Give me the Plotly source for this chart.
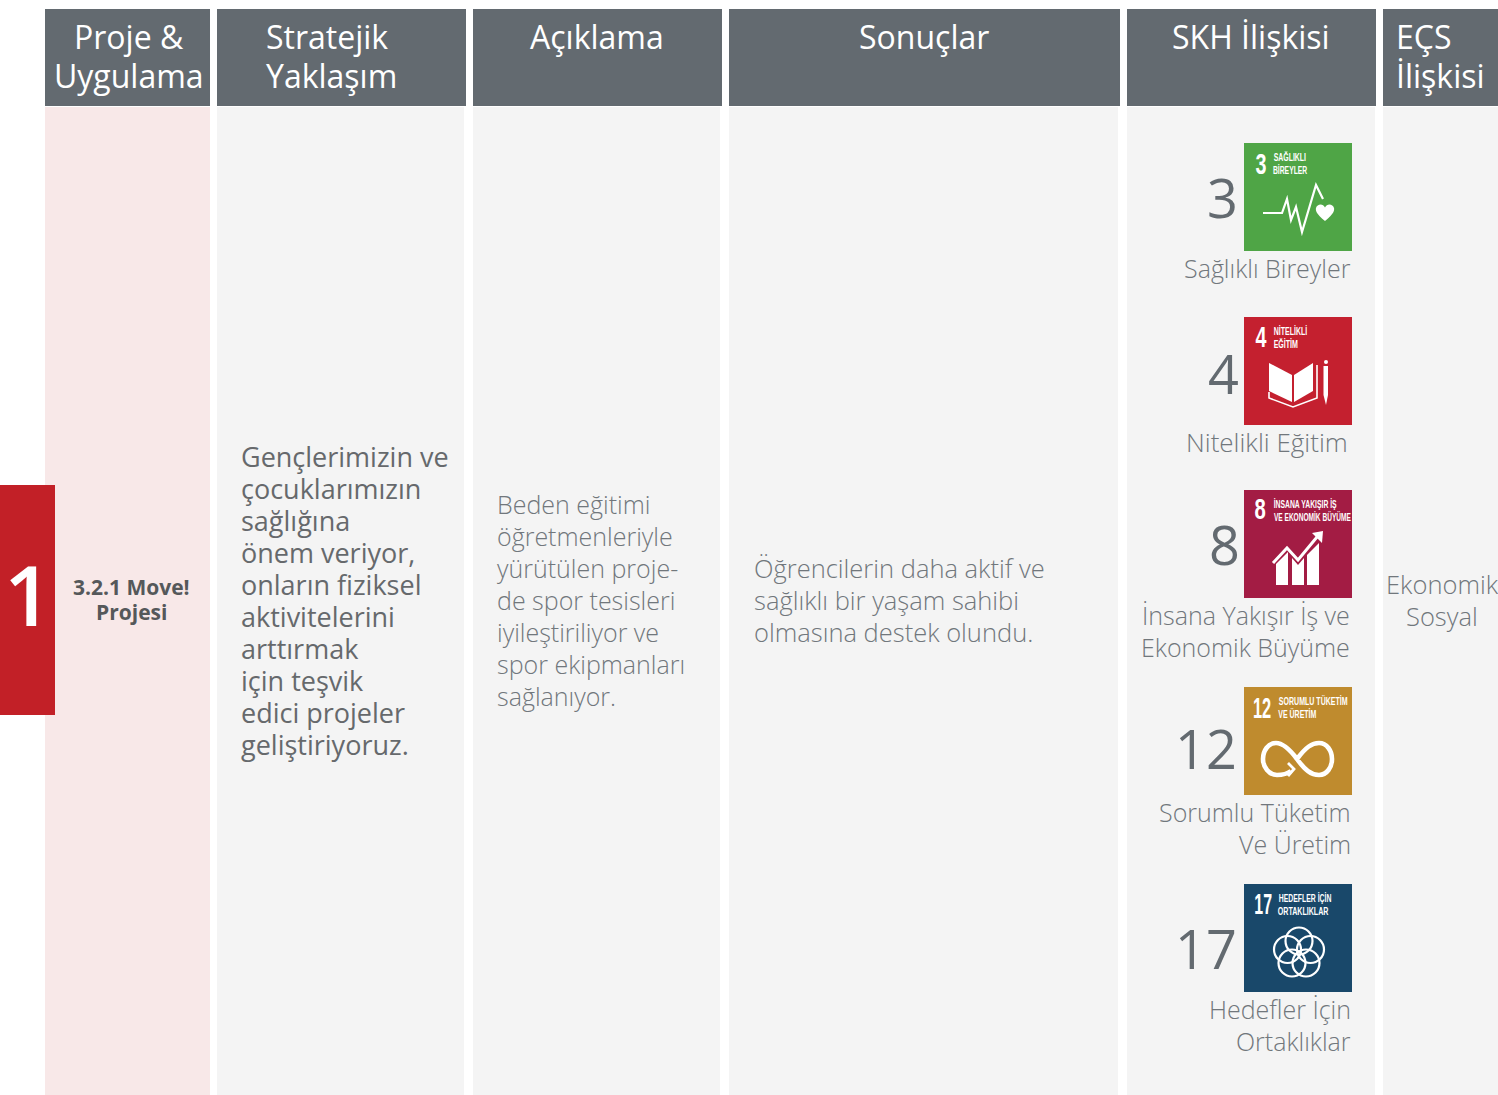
import json
import plotly.graph_objects as go

FONT = "Open Sans"
TILE_FONT = "Liberation Sans"
GREY = "#636a70"
PANEL = "#f4f4f4"
BODY = "#71777c"

headers = [["Proje &", "Uygulama"], ["Stratejik", "Yaklaşım"], ["Açıklama"], ["Sonuçlar"], ["SKH İlişkisi"], ["EÇS", "İlişkisi"]]
header_x = [(45, 210), (217, 466), (473, 722), (729, 1120), (1127, 1376), (1383, 1498)]
panel_x = [(45, 210), (217, 464), (473, 720), (729, 1118), (1127, 1375), (1383, 1498)]
header_text_x = [(129, "center"), (266, "left"), (597, "center"), (924, "center"), (1251, "center"), (1396, "left")]

project_no = "1"
project_lines = ["3.2.1 Move!", "Projesi"]
strategy_lines = ["Gençlerimizin ve", "çocuklarımızın", "sağlığına", "önem veriyor,", "onların fiziksel",
                  "aktivitelerini", "arttırmak", "için teşvik", "edici projeler", "geliştiriyoruz."]
desc_lines = ["Beden eğitimi", "öğretmenleriyle", "yürütülen proje-", "de spor tesisleri", "iyileştiriliyor ve",
              "spor ekipmanları", "sağlanıyor."]
result_lines = ["Öğrencilerin daha aktif ve", "sağlıklı bir yaşam sahibi", "olmasına destek olundu."]
esg_lines = ["Ekonomik", "Sosyal"]

sdg_numbers = ["3", "4", "8", "12", "17"]
sdg_labels = [["Sağlıklı Bireyler"], ["Nitelikli Eğitim"], ["İnsana Yakışır İş ve", "Ekonomik Büyüme"],
              ["Sorumlu Tüketim", "Ve Üretim"], ["Hedefler İçin", "Ortaklıklar"]]
sdg_label_size = [25, 26, 25, 25, 25]
sdg_label_right = [1351, 1348, 1350, 1351, 1351]
sdg_titles = [["SAĞLIKLI", "BİREYLER"], ["NİTELİKLİ", "EĞİTİM"], ["İNSANA YAKIŞIR İŞ", "VE EKONOMİK BÜYÜME"],
              ["SORUMLU TÜKETİM", "VE ÜRETİM"], ["HEDEFLER İÇİN", "ORTAKLIKLAR"]]
sdg_title_widths = [[32.3, 34.3], [33.3, 24.3], [63, 77], [68.7, 38], [52.7, 50.7]]
sdg_title_left = [29.7, 29.7, 29.5, 34.3, 34.3]
sdg_digit_box = [(11.3, 11), (11, 11), (10.7, 11.3), (8.7, 18.3), (10, 17.7)]
sdg_digit_y = [20.7, 19.7, 19.3, 21, 20]
sdg_colors = ["#4fa546", "#c4202f", "#a31c44", "#bf8b2e", "#19486a"]
sdg_tops = [143, 317, 490, 687, 884]
ICON = 108

shapes, annotations, squeeze = [], [], {}


def rect(x0, y0, x1, y1, color):
    shapes.append(dict(type="rect", xref="x", yref="y", x0=x0, y0=y0, x1=x1, y1=y1,
                       fillcolor=color, line_width=0, layer="below"))


def text(x, y, s, size, color, anchor="left", weight=400, font=FONT):
    annotations.append(dict(x=x, y=y, xref="x", yref="y", text=s, showarrow=False, xanchor=anchor, yanchor="middle",
                            align=anchor, font=dict(family=font, size=size, color=color, weight=weight),
                            borderpad=0, borderwidth=0))


def fitted(left, width, y, s, size):
    """Tile caption: condensed real text, squeezed to the measured width."""
    squeeze[len(annotations)] = width
    text(left + width / 2, y, s, size, "white", "center", 700, TILE_FONT)


def block(x, y0, step, lines, size, color, anchor="left", weight=400):
    for i, s in enumerate(lines):
        text(x, y0 + i * step, s, size, color, anchor, weight)


def path(ox, oy, pts, fill=None, stroke=None, width=2.2, close=False):
    d = "M " + " L ".join(f"{ox + a},{oy + b}" for a, b in pts) + (" Z" if close else "")
    shapes.append(dict(type="path", xref="x", yref="y", path=d, fillcolor=fill or "rgba(0,0,0,0)",
                       line=dict(color=stroke or "rgba(0,0,0,0)", width=width if stroke else 0)))


def curve(ox, oy, d, fill=None, stroke=None, width=2.2):
    out = []
    for tok in d.split():
        if tok.isalpha():
            out.append(tok)
        else:
            a, b = tok.split(",")
            out.append(f"{ox + float(a)},{oy + float(b)}")
    shapes.append(dict(type="path", xref="x", yref="y", path=" ".join(out), fillcolor=fill or "rgba(0,0,0,0)",
                       line=dict(color=stroke or "rgba(0,0,0,0)", width=width if stroke else 0)))


def glyph(idx, ox, oy):
    W = "white"
    if idx == 0:
        path(ox, oy, [(19, 70), (38, 70), (43, 56), (47, 77), (52, 64), (58, 89), (72, 42), (79, 56)], stroke=W)
        curve(ox, oy, "M 81,78 C 72,71 71.5,67 72,65 C 73,61 79,60 81,64.5 C 83,60 89,61 90,65 C 90.5,67 90,71 81,78 Z", fill=W)
    elif idx == 1:
        path(ox, oy, [(25, 46), (48, 58), (48, 85), (25, 74)], fill=W, close=True)
        path(ox, oy, [(50, 58), (69, 46), (69, 74), (50, 85)], fill=W, close=True)
        path(ox, oy, [(25, 75), (25, 81), (49, 90), (73, 81), (73, 48)], stroke=W, width=1.6)
        path(ox, oy, [(79.5, 49), (84, 49), (84, 78), (82, 88), (79.5, 78)], fill=W, close=True)
        shapes.append(dict(type="circle", xref="x", yref="y", x0=ox + 80, y0=oy + 43, x1=ox + 84, y1=oy + 47,
                           fillcolor=W, line_width=0))
    elif idx == 2:
        path(ox, oy, [(32, 74), (44, 62), (44, 95), (32, 95)], fill=W, close=True)
        path(ox, oy, [(48, 68), (54, 75), (60, 68), (60, 95), (48, 95)], fill=W, close=True)
        path(ox, oy, [(63, 65), (75, 53), (75, 95), (63, 95)], fill=W, close=True)
        path(ox, oy, [(29, 73), (43, 58), (54, 70), (73, 47)], stroke=W, width=3)
        path(ox, oy, [(79, 41), (68, 43), (78, 53)], fill=W, close=True)
    elif idx == 3:
        curve(ox, oy, "M 53,72 C 44,60 38,56 32,56 C 24,56 19,64 19,72 C 19,80 25,88 33,88 C 38,88 43,87 47,84 "
                      "M 53,72 C 62,60 68,56 75,56 C 83,56 88,64 88,72 C 88,80 83,88 75,88 C 67,88 61,83 53,72",
              stroke=W, width=4.6)
        path(ox, oy, [(44, 76), (50, 82), (44, 89)], stroke=W, width=2.8)
    else:
        for cx, cy in [(55, 57), (66.5, 65.5), (62, 79), (48, 79), (43.5, 65.5)]:
            shapes.append(dict(type="circle", xref="x", yref="y", x0=ox + cx - 13.5, y0=oy + cy - 13.5,
                               x1=ox + cx + 13.5, y1=oy + cy + 13.5, fillcolor="rgba(0,0,0,0)",
                               line=dict(color=W, width=2.2)))


# column panels and headers
for i, (a, b) in enumerate(panel_x):
    rect(a, 107, b, 1095, "#f8e8e8" if i == 0 else PANEL)
for (a, b) in header_x:
    rect(a, 9, b, 106, GREY)
for lines, (x, anc) in zip(headers, header_text_x):
    block(x, 36.5, 38.5, lines, 32, "white", anc)

# project number tab
rect(0, 485, 55, 715, "#c22027")
text(28, 593, project_no, 84, "white", "center", 600)
block(131, 587, 25, project_lines, 21, "#55585a", "center", 700)

# text columns
block(241, 456, 32, strategy_lines, 27, "#66696c", "left", 500)
block(497, 504, 32, desc_lines, 25, BODY, "left", 300)
block(754, 568, 32, result_lines, 25.5, BODY, "left", 300)
block(1442, 584, 32, esg_lines, 25.5, BODY, "center", 300)

# SDG tiles
number_y = [197, 373, 544, 748, 948]
label_y = [268, 442, 615, 812, 1009]
number_right = [1238, 1239, 1240, 1237, 1237]
for i, top in enumerate(sdg_tops):
    rect(1244, top, 1244 + ICON, top + ICON, sdg_colors[i])
    glyph(i, 1244, top)
    text(number_right[i], number_y[i], sdg_numbers[i], 54, GREY, "right")
    block(sdg_label_right[i], label_y[i], 32, sdg_labels[i], sdg_label_size[i], BODY, "right", 300)
    dl, dw = sdg_digit_box[i]
    fitted(1244 + dl, dw, top + sdg_digit_y[i], sdg_numbers[i], 29)
    for j, s in enumerate(sdg_titles[i]):
        fitted(1244 + sdg_title_left[i], sdg_title_widths[i][j], top + 14 + j * 12.6, s, 11.5)

fig = go.Figure()
fig.update_layout(
    width=1498, height=1095, margin=dict(l=0, r=0, t=0, b=0), autosize=False,
    paper_bgcolor="white", plot_bgcolor="white", showlegend=False,
    xaxis=dict(range=[0, 1498], visible=False, fixedrange=True),
    yaxis=dict(range=[1095, 0], visible=False, fixedrange=True),
    shapes=shapes, annotations=annotations,
)
post = """
document.body.style.margin='0';document.body.style.overflow='hidden';
(function(){
  var gd=document.getElementById('{plot_id}'), fit=%s;
  function apply(){
    Object.keys(fit).forEach(function(k){
      var t=gd.querySelector('.annotation[data-index="'+k+'"] text');
      if(t){t.setAttribute('textLength',fit[k]);t.setAttribute('lengthAdjust','spacingAndGlyphs');}
    });
  }
  apply(); gd.on('plotly_afterplot',apply);
  setTimeout(apply,50); setTimeout(apply,300);
})();
""" % json.dumps(squeeze)
fig.write_html("out.html", config={"displayModeBar": False}, post_script=post)
